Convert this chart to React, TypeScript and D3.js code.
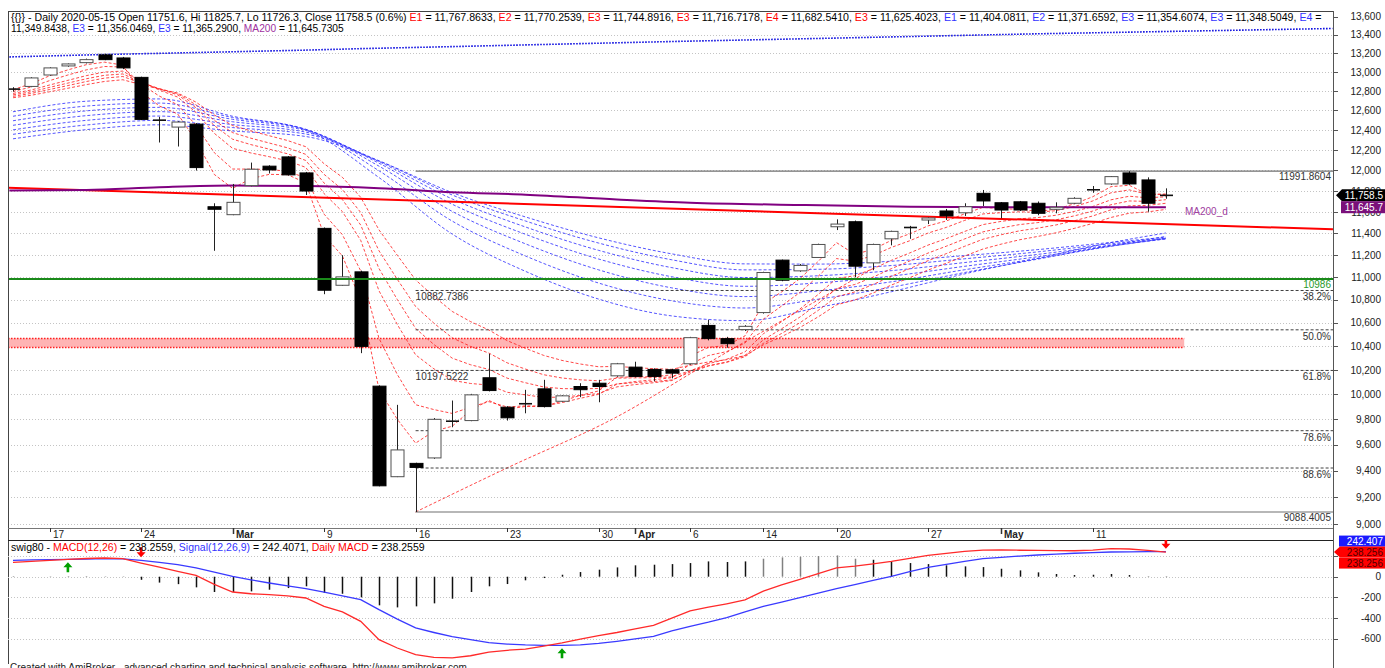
import React, { useEffect } from 'react';
import * as d3 from 'd3';

// ---------------- data ----------------
const openP = [12810,12848,12968,13064,13099,13182,13149,12943,12490,12430,12460,11650,11575,11852,12041,12132,11975,11447,10929,11049,10068,9353,9455,9497,9775,9790,10137,9897,9920,10046,9945,10065,10092,10153,10225,10206,10203,10253,10578,10465,10542,10689,11155,11058,11179,11462,11509,11130,11350,11445,11525,11610,11593,11778,11688,11697,11683,11626,11683,11805,11868,11975,11907,11751.6];
const highP = [12840,12945,13050,13090,13142,13195,13160,12950,12534,12490,12470,11683,11868,12076,12050,12140,11985,11455,11200,11060,10075,9916,9460,9810,9951,10005,10337,9905,10038,10120,9995,10092,10120,10260,10270,10215,10210,10480,10627,10480,10580,11050,11160,11120,11305,11531,11520,11305,11425,11470,11550,11629,11683,11810,11695,11705,11700,11692,11740,11848,11945,11991.86,11932,11825.7];
const lowP = [12795,12840,12960,13055,13090,13125,13030,12500,12275,12235,11998,11240,11570,11845,11970,11950,11762,10850,10925,10342,9280,9350,9088.4,9490,9737,9785,10025,9790,9848,9895,9940,9978,9937,10145,10140,10109,10132,10245,10450,10388,10530,10680,10965,11050,11175,11431,11000,11064,11290,11350,11487,11525,11563,11657,11541,11610,11570,11588,11675,11783,11860,11860,11603,11726.3];
const closeP = [12820,12937,13043,13085,13131,13131,13043,12508,12500,12481,12027,11626,11692,12011,12004,11956,11800,10885,11004,10399,9284,9559,9424,9800,9785,9997,10032,9812,9925,9902,9989,10039,10065,10253,10148,10148,10175,10473,10465,10422,10570,11043,10974,11107,11298,11487,11100,11298,11419,11455,11544,11563,11650,11705,11619,11619,11588,11645,11730,11812,11939,11868,11683,11758.5];

// short averages (red)
const redE1 = [12815,12876,12960,13022,13077,13104,13073,12791,12645,12563,12295,11960,11826,11919,11961,11958,11879,11382,11193,10796,10040,9800,9612,9706,9745,9871,9952,9882,9903,9903,9946,9993,10029,10141,10145,10146,10161,10317,10391,10406,10488,10766,10870,10988,11143,11315,11208,11253,11336,11396,11470,11516,11583,11644,11632,11625,11607,11626,11678,11745,11842,11855,11769,11768];
const redE2 = [12795,12842,12909,12968,13022,13058,13053,12871,12747,12658,12448,12174,12013,12012,12009,11991,11927,11580,11388,11058,10467,10164,9917,9878,9847,9897,9942,9899,9908,9906,9934,9969,10001,10085,10106,10120,10138,10250,10322,10355,10427,10632,10746,10866,11010,11169,11146,11197,11271,11332,11403,11456,11521,11582,11594,11602,11597,11613,11652,11705,11783,11811,11768,11770];
const redE3 = [12775,12811,12863,12912,12961,12999,13009,12898,12810,12737,12579,12367,12217,12171,12134,12094,12029,11775,11604,11336,10880,10586,10328,10211,10116,10090,10077,10018,9997,9976,9979,9992,10008,10062,10081,10096,10114,10194,10254,10291,10353,10506,10610,10720,10848,10990,11014,11077,11153,11220,11292,11352,11418,11482,11512,11536,11548,11570,11606,11652,11716,11750,11735,11745];
const redE4 = [12760,12792,12838,12883,12928,12965,12979,12893,12822,12760,12627,12445,12308,12254,12209,12163,12097,11877,11718,11478,11079,10803,10552,10415,10300,10245,10206,10134,10096,10061,10048,10046,10049,10086,10097,10106,10119,10183,10234,10268,10323,10454,10549,10650,10768,10899,10936,11002,11078,11147,11219,11282,11349,11414,11451,11482,11501,11527,11564,11609,11669,11705,11701,11717];
const redE5 = [12745,12775,12816,12857,12899,12935,12952,12884,12825,12772,12657,12498,12374,12318,12270,12222,12157,11961,11814,11596,11240,10982,10742,10597,10472,10399,10343,10261,10209,10162,10135,10120,10112,10134,10136,10138,10144,10195,10237,10265,10312,10424,10509,10601,10708,10828,10870,10936,11010,11078,11150,11214,11281,11346,11388,11424,11449,11479,11518,11563,11621,11659,11663,11683];
const redE6 = [12730,12756,12792,12829,12867,12900,12918,12867,12821,12779,12685,12553,12445,12391,12343,12295,12233,12065,11932,11740,11433,11199,10977,10830,10699,10611,10539,10448,10383,10323,10281,10251,10228,10231,10221,10212,10207,10240,10268,10287,10322,10412,10482,10560,10652,10756,10799,10861,10931,10997,11065,11127,11192,11256,11301,11341,11372,11406,11447,11493,11549,11589,11601,11625];

// long averages (blue), sampled every 4 bars
const blueIdx = [0,4,8,12,16,20,24,28,32,36,40,44,48,52,56,60,63];
const blueE1 = [12586,12694,12718,12540,12400,11930,11394,11054,10807,10660,10619,10733,10872,11031,11172,11315,11404];
const blueE2 = [12540,12644,12675,12528,12408,11996,11515,11193,10949,10792,10729,10806,10912,11043,11164,11290,11372];
const blueE3 = [12494,12595,12631,12509,12406,12041,11606,11304,11067,10906,10829,10879,10960,11068,11170,11281,11355];
const blueE4 = [12448,12546,12587,12484,12396,12070,11674,11392,11165,11005,10920,10950,11011,11099,11186,11283,11349];
const blueE5 = [12402,12498,12542,12455,12379,12085,11724,11460,11244,11087,10998,11014,11060,11133,11207,11292,11350];
const blueE6 = [12357,12451,12498,12425,12360,12094,11762,11516,11311,11158,11067,11072,11106,11167,11230,11305,11356];
const blueE7 = [12312,12404,12453,12391,12335,12092,11785,11554,11359,11212,11121,11119,11145,11196,11251,11317,11365];

// ray from the March low
const rayIdx = [22, 27, 33, 38, 44, 47];
const rayVal = [9088.4, 9420, 9820, 10260, 10800, 11080];

// MA200
const maIdx = [-0.2, 4, 8, 12, 16, 20, 24, 28, 33, 37, 43, 49, 54, 58, 63];
const maVal = [11804, 11810, 11836, 11852, 11848, 11827, 11788, 11765, 11719, 11688, 11667, 11651, 11646, 11646, 11645.73];

// top dotted band
const bandIdx = [-0.2, 5, 11, 16, 19, 24, 36, 43, 56, 72.1];
const bandVal = [13160, 13186, 13211, 13233, 13249, 13271, 13326, 13355, 13410, 13468];

// red trend line (two ends)
const trendIdx = [-0.27, 72.13];
const trendVal = [11832, 11438];

const greenLevel = 10986;
const zoneLow = 10390, zoneHigh = 10467, zoneEndIdx = 64;

const fibHigh = 11991.8604, fibLow = 9088.4005, fibStartIdx = 22;
const fibRatios = ['38.2%', '50.0%', '61.8%', '78.6%', '88.6%'];
const fibValues = [10882.7386, 10540.1305, 10197.5222, 9709.7409, 9419.3949];
const fibShowValue = [true, false, true, false, false];

// MACD panel
const macdVals = [138,148,158,168,176,181,174,132,92,51,13,-75,-148,-165,-174,-185,-206,-287,-340,-432,-609,-690,-754,-780,-786,-765,-730,-712,-700,-672,-641,-605,-570,-540,-505,-470,-400,-330,-295,-262,-225,-140,-80,-25,30,85,102,125,148,178,206,225,245,258,260,256,254,252,251,258,271,268,255,238.256];
const signalVals = [158,162,165,168,171,174,172,158,138,116,85,45,3,-30,-61,-88,-116,-150,-185,-222,-319,-410,-496,-540,-580,-610,-638,-652,-660,-664,-664,-660,-645,-625,-602,-577,-525,-480,-440,-395,-341,-287,-245,-202,-159,-116,-76,-36,3,48,90,120,148,174,188,200,210,218,227,233,239,241,242,242.407];
const histVals = [-3,0,2,3,3,2,-2,-30,-57,-72,-103,-148,-148,-142,-126,-110,-93,-158,-165,-200,-277,-297,-287,-258,-213,-148,-93,-71,-35,-13,19,45,68,90,110,116,122,132,148,142,148,174,187,193,200,206,174,164,148,132,122,110,100,93,77,61,42,26,16,19,26,16,3,-4];
const arrowIdx = [3, 7, 30, 63];
const arrowDir = ['up', 'down', 'up', 'down'];

// axes
const priceTicks = [13600,13400,13200,13000,12800,12600,12400,12200,12000,11800,11600,11400,11200,11000,10800,10600,10400,10200,10000,9800,9600,9400,9200,9000];
const macdTicks = [200, 0, -200, -400, -600];
const xTickIdx = [2, 7, 12, 17, 22, 27, 32, 34, 37, 41, 45, 50, 54, 59];
const xTickLabels = ['17', '24', 'Mar', '9', '16', '23', '30', 'Apr', '6', '14', '20', '27', 'May', '11'];
const xTickMonth = [false, false, true, false, false, false, false, true, false, false, false, false, true, false];

const RED = '#ff0000', BLUE = '#3333ff', PURPLE = '#a030a0', BLK = '#000000';
const headerLine1: [string, string][] = [
  ['{{}} - Daily 2020-05-15 Open 11751.6, Hi 11825.7, Lo 11726.3, Close 11758.5 (0.6%) ', BLK],
  ['E1', RED], [' = 11,767.8633, ', BLK], ['E2', RED], [' = 11,770.2539, ', BLK],
  ['E3', RED], [' = 11,744.8916, ', BLK], ['E3', RED], [' = 11,716.7178, ', BLK],
  ['E4', RED], [' = 11,682.5410, ', BLK], ['E3', RED], [' = 11,625.4023, ', BLK],
  ['E1', BLUE], [' = 11,404.0811, ', BLK], ['E2', BLUE], [' = 11,371.6592, ', BLK],
  ['E3', BLUE], [' = 11,354.6074, ', BLK], ['E3', BLUE], [' = 11,348.5049, ', BLK],
  ['E4', BLUE], [' =', BLK],
];
const headerLine2: [string, string][] = [
  ['11,349.8438, ', BLK], ['E3', BLUE], [' = 11,356.0469, ', BLK], ['E3', BLUE],
  [' = 11,365.2900, ', BLK], ['MA200', PURPLE], [' = 11,645.7305', BLK],
];
const macdLegend: [string, string][] = [
  ['swig80 - ', BLK], ['MACD(12,26)', RED], [' = 238.2559, ', BLK], ['Signal(12,26,9)', BLUE],
  [' = 242.4071, ', BLK], ['Daily MACD', RED], [' = 238.2559', BLK],
];

const FONT = '"Liberation Sans", Arial, Helvetica, sans-serif';
const L = 8, R = 1333, T = 11, PB = 528, AB = 540, MB = 664;

export default function App() {
  useEffect(() => { document.body.style.margin = '0'; }, []);

  const xs = d3.scaleLinear().domain([0, 63]).range([13, 13 + 18.3 * 63]);
  const ys = d3.scaleLog().domain([9000, 13600]).range([524, 16.5]);
  const ms = d3.scaleLinear().domain([-600, 0]).range([638.7, 576.7]);

  const pLine = d3.line<[number, number]>().x(d => xs(d[0])).y(d => ys(d[1]));
  const pCurve = d3.line<[number, number]>().x(d => xs(d[0])).y(d => ys(d[1])).curve(d3.curveMonotoneX);
  const mLine = d3.line<[number, number]>().x(d => xs(d[0])).y(d => ms(d[1]));

  const reds = [redE6, redE5, redE4, redE3, redE2, redE1];
  const blues = [blueE7, blueE6, blueE5, blueE4, blueE3, blueE2, blueE1];
  const fmt = d3.format(',');

  const spans = (segs: [string, string][]) => segs.map((s, k) => <tspan key={k} fill={s[1]}>{s[0]}</tspan>);

  const lastClose = closeP[closeP.length - 1];
  const lastMa = maVal[maVal.length - 1];
  const yClose = ys(lastClose);
  const yMa = ys(lastMa);
  const yMacd = ms(macdVals[macdVals.length - 1]);

  return (
    <svg width={1385} height={668} style={{ position: 'absolute', left: 0, top: 0, display: 'block', background: '#fff' }} fontFamily={FONT}>
      <defs>
        <clipPath id="pclip"><rect x={L} y={T} width={R - L} height={PB - T} /></clipPath>
        <clipPath id="mclip"><rect x={L} y={AB} width={R - L} height={MB - AB} /></clipPath>
      </defs>
      <rect x={0} y={0} width={1385} height={668} fill="#fff" />

      {/* price gridlines */}
      {priceTicks.filter(t => t < 13600).map(t => (
        <line key={t} x1={L} x2={R} y1={Math.round(ys(t)) + 0.5} y2={Math.round(ys(t)) + 0.5} stroke="#c4c4c4" strokeDasharray="1,2" />
      ))}

      <g clipPath="url(#pclip)">
        {/* zone */}
        <rect x={L} y={ys(zoneHigh)} width={xs(zoneEndIdx) - L} height={ys(zoneLow) - ys(zoneHigh)} fill="#ffb4b4" />
        <line x1={L} x2={xs(zoneEndIdx)} y1={ys(zoneHigh)} y2={ys(zoneHigh)} stroke="#ff2020" strokeDasharray="1.5,1.5" strokeWidth={1.5} />
        <line x1={L} x2={xs(zoneEndIdx)} y1={ys(zoneLow)} y2={ys(zoneLow)} stroke="#ff2020" strokeDasharray="1.5,1.5" strokeWidth={1.5} />

        {/* top dotted band */}
        <path d={pLine(bandIdx.map((i, k) => [i, bandVal[k]] as [number, number])) || ''} fill="none" stroke="#1010e0" strokeWidth={1.6} strokeDasharray="1.6,1.4" />

        {/* blue averages */}
        {blues.map((arr, k) => (
          <path key={'b' + k} d={pCurve(blueIdx.map((i, j) => [i, arr[j]] as [number, number])) || ''} fill="none" stroke="#2a2aff" strokeOpacity={0.8} strokeWidth={1} strokeDasharray="3,2" />
        ))}

        {/* red averages */}
        {reds.map((arr, k) => (
          <path key={'r' + k} d={pLine(arr.map((v, i) => [i, v] as [number, number])) || ''} fill="none" stroke="#ff1a1a" strokeOpacity={0.8} strokeWidth={1} strokeDasharray="3,2" />
        ))}
        <path d={pCurve(rayIdx.map((i, k) => [i, rayVal[k]] as [number, number])) || ''} fill="none" stroke="#ff1a1a" strokeOpacity={0.8} strokeWidth={1} strokeDasharray="3,2" />

        {/* fib lines */}
        <line x1={xs(fibStartIdx)} x2={R} y1={ys(fibHigh)} y2={ys(fibHigh)} stroke="#707070" strokeWidth={1.2} />
        <line x1={xs(fibStartIdx)} x2={R} y1={ys(fibLow)} y2={ys(fibLow)} stroke="#707070" strokeWidth={1.2} />
        {fibValues.map((v, k) => (
          <line key={'f' + k} x1={xs(fibStartIdx)} x2={R} y1={ys(v)} y2={ys(v)} stroke="#404040" strokeDasharray="3,2" />
        ))}

        {/* trend + MA200 */}
        <path d={pLine(trendIdx.map((i, k) => [i, trendVal[k]] as [number, number])) || ''} fill="none" stroke="#ff0000" strokeWidth={2} />
        <path d={pCurve(maIdx.map((i, k) => [i, maVal[k]] as [number, number])) || ''} fill="none" stroke="#800080" strokeWidth={2} />

        {/* candles */}
        {closeP.map((c, i) => {
          const o = openP[i], h = highP[i], l = lowP[i];
          const x = Math.round(xs(i)) + 0.5;
          const yo = ys(o), yc = ys(c);
          const top = Math.min(yo, yc), bot = Math.max(yo, yc);
          const up = c >= o;
          return (
            <g key={'c' + i}>
              <line x1={x} x2={x} y1={ys(h)} y2={ys(l)} stroke="#222" />
              {bot - top < 1.6
                ? <line x1={x - 6.5} x2={x + 6.5} y1={yc} y2={yc} stroke="#111" strokeWidth={1.6} />
                : <rect x={x - 6.5} y={top} width={13} height={bot - top} fill={up ? '#fff' : '#000'} stroke={up ? '#505050' : '#000'} />}
            </g>
          );
        })}

        {/* green level */}
        <line x1={L} x2={R} y1={ys(greenLevel)} y2={ys(greenLevel)} stroke="#1a8a1a" strokeWidth={2} />
      </g>

      {/* fib labels */}
      <text x={1331} y={ys(fibHigh) + 9} fontSize={10} textAnchor="end" fill="#333">{fibHigh.toFixed(4)}</text>
      <text x={1331} y={ys(fibLow) + 9} fontSize={10} textAnchor="end" fill="#333">{fibLow.toFixed(4)}</text>
      {fibValues.map((v, k) => (
        <g key={'fl' + k}>
          <text x={1331} y={ys(v) + 10} fontSize={10} textAnchor="end" fill="#333">{fibRatios[k]}</text>
          {fibShowValue[k] && <text x={xs(fibStartIdx)} y={ys(v) + 10} fontSize={10} fill="#333">{v.toFixed(4)}</text>}
        </g>
      ))}
      <text x={1331} y={ys(greenLevel) + 9.5} fontSize={10} textAnchor="end" fill="#2a9a2a">{greenLevel}</text>
      <text x={1185} y={yMa + 7.5} fontSize={10} fill="#a040a0">MA200_d</text>

      {/* header */}
      <text x={11} y={20.5} fontSize={10.6} style={{ whiteSpace: 'pre' }}>{spans(headerLine1)}</text>
      <text x={11} y={32} fontSize={10.2} style={{ whiteSpace: 'pre' }}>{spans(headerLine2)}</text>

      {/* frame */}
      <line x1={L} x2={R} y1={T + 0.5} y2={T + 0.5} stroke="#444" />
      <line x1={L + 0.5} x2={L + 0.5} y1={T} y2={MB} stroke="#444" />
      <line x1={R + 0.5} x2={R + 0.5} y1={T} y2={668} stroke="#555" />
      <line x1={L} x2={R} y1={PB + 0.5} y2={PB + 0.5} stroke="#777" />
      <line x1={L} x2={R} y1={AB + 0.5} y2={AB + 0.5} stroke="#222" />

      {/* price axis */}
      {priceTicks.map(t => (
        <g key={'pt' + t}>
          <line x1={R} x2={R + 5} y1={Math.round(ys(t)) + 0.5} y2={Math.round(ys(t)) + 0.5} stroke="#555" />
          <text x={1381} y={ys(t) + 3.6} fontSize={10} textAnchor="end" fill="#222">{fmt(t)}</text>
        </g>
      ))}
      {/* last price + MA labels */}
      <path d={`M${R + 3},${yClose} L${R + 9},${yClose - 6} L1385,${yClose - 6} L1385,${yClose + 6} L${R + 9},${yClose + 6} Z`} fill="#000" />
      <text x={1383} y={yClose + 3.6} fontSize={10} textAnchor="end" fill="#fff">{d3.format(',.1f')(lastClose)}</text>
      <rect x={1341} y={yMa - 6} width={44} height={12} fill="#7a107a" />
      <text x={1383} y={yMa + 3.6} fontSize={10} textAnchor="end" fill="#fff">{d3.format(',.1f')(Math.floor(lastMa * 10) / 10)}</text>

      {/* x axis */}
      {xTickIdx.map((i, k) => {
        const x = Math.round(xs(i)) + 0.5;
        return (
          <g key={'xt' + k}>
            <line x1={x} x2={x} y1={PB} y2={PB + (xTickMonth[k] ? 6 : 4)} stroke="#333" strokeWidth={xTickMonth[k] ? 1.5 : 1} />
            <text x={x + 2.5} y={537.5} fontSize={10} fontWeight={xTickMonth[k] ? 'bold' : 'normal'} fill="#222">{xTickLabels[k]}</text>
          </g>
        );
      })}

      {/* MACD panel */}
      {macdTicks.map(t => (
        <g key={'mt' + t}>
          <line x1={L} x2={R} y1={Math.round(ms(t)) + 0.5} y2={Math.round(ms(t)) + 0.5} stroke="#c4c4c4" strokeDasharray="1,2" />
          <line x1={R} x2={R + 5} y1={Math.round(ms(t)) + 0.5} y2={Math.round(ms(t)) + 0.5} stroke="#555" />
          {t !== 200 && <text x={1381} y={ms(t) + 3.6} fontSize={10} textAnchor="end" fill="#222">{String(t)}</text>}
        </g>
      ))}
      <g clipPath="url(#mclip)">
        {histVals.map((h, i) => (
          <line key={'h' + i} x1={Math.round(xs(i)) + 0.5} x2={Math.round(xs(i)) + 0.5} y1={ms(0)} y2={ms(h)} stroke={h > 170 ? '#808080' : '#111'} strokeWidth={1.5} />
        ))}
        <path d={mLine(signalVals.map((v, i) => [i, v] as [number, number])) || ''} fill="none" stroke="#3a3aff" strokeWidth={1.3} />
        <path d={mLine(macdVals.map((v, i) => [i, v] as [number, number])) || ''} fill="none" stroke="#ff2a2a" strokeWidth={1.3} />
        {arrowIdx.map((i, k) => {
          const x = xs(i);
          if (arrowDir[k] === 'up') {
            const tip = ms(Math.min(macdVals[i], signalVals[i])) + 3;
            return <path key={'a' + k} d={`M${x},${tip} L${x + 4.5},${tip + 5} L${x + 1.3},${tip + 5} L${x + 1.3},${tip + 10} L${x - 1.3},${tip + 10} L${x - 1.3},${tip + 5} L${x - 4.5},${tip + 5} Z`} fill="#00a000" />;
          }
          const tip = ms(Math.max(macdVals[i], signalVals[i])) - 3;
          return <path key={'a' + k} d={`M${x},${tip} L${x + 4.5},${tip - 5} L${x + 1.3},${tip - 5} L${x + 1.3},${tip - 10} L${x - 1.3},${tip - 10} L${x - 1.3},${tip - 5} L${x - 4.5},${tip - 5} Z`} fill="#ff0000" />;
        })}
      </g>
      <text x={11} y={551} fontSize={10.5} style={{ whiteSpace: 'pre' }}>{spans(macdLegend)}</text>

      {/* MACD value boxes */}
      <rect x={1339} y={yMacd - 16.5} width={46} height={11} fill="#1a1aff" />
      <text x={1383} y={yMacd - 7.5} fontSize={10} textAnchor="end" fill="#fff">{signalVals[signalVals.length - 1].toFixed(3)}</text>
      <path d={`M${R + 1},${yMacd} L${R + 7},${yMacd - 5.5} L1385,${yMacd - 5.5} L1385,${yMacd + 5.5} L${R + 7},${yMacd + 5.5} Z`} fill="#ff0000" />
      <text x={1383} y={yMacd + 3.6} fontSize={10} textAnchor="end" fill="#500000">{macdVals[macdVals.length - 1].toFixed(3)}</text>
      <rect x={1339} y={yMacd + 5.5} width={46} height={11} fill="#ff0000" />
      <text x={1383} y={yMacd + 14.5} fontSize={10} textAnchor="end" fill="#500000">{macdVals[macdVals.length - 1].toFixed(3)}</text>

      <text x={10} y={671} fontSize={10} fill="#222">Created with AmiBroker - advanced charting and technical analysis software. http://www.amibroker.com</text>
    </svg>
  );
}
